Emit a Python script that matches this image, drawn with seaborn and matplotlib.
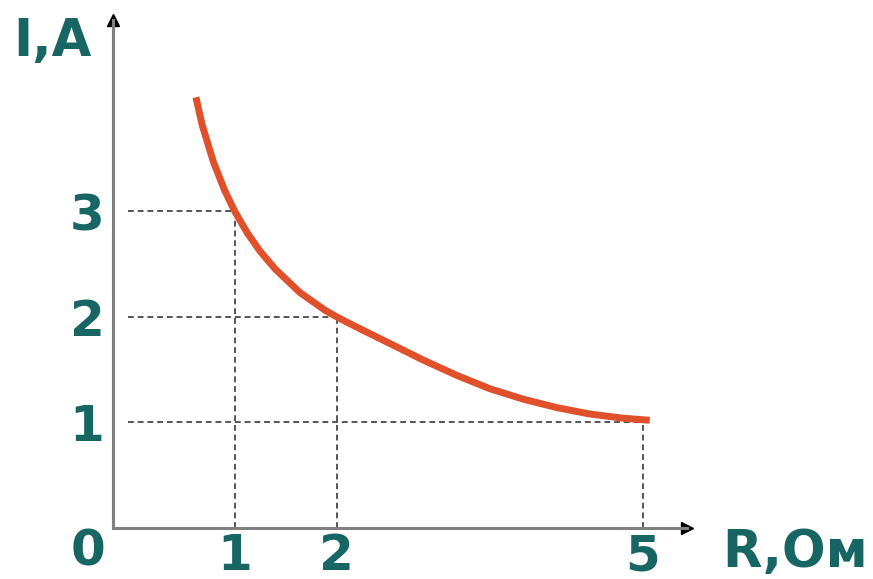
import numpy as np
import pandas as pd
import matplotlib
matplotlib.use("Agg")
import matplotlib.pyplot as plt
import seaborn as sns

# --- datos ---
R_curve = [0.62, 0.68, 0.79, 0.90, 1.00, 1.12, 1.25, 1.40, 1.64, 1.89, 2.00,
           2.13, 2.38, 2.59, 2.85, 3.18, 3.50, 3.83, 4.16, 4.48, 4.81, 5.07]
I_curve = [4.08, 3.82, 3.47, 3.20, 3.00, 2.80, 2.62, 2.45, 2.23, 2.06, 2.00,
           1.935, 1.815, 1.715, 1.59, 1.445, 1.32, 1.22, 1.14, 1.08, 1.04, 1.02]

guide_R = [1, 2, 5]
guide_I = [3, 2, 1]

x_ticks = [1, 2, 5]
x_labels = ["1", "2", "5"]
y_ticks = [1, 2, 3]
y_labels = ["1", "2", "3"]

df = pd.DataFrame({"R": R_curve, "I": I_curve})

sns.set_theme(style="white")
plt.rcParams["font.family"] = ["DejaVu Sans"]

teal = "#186664"
red = "#e0502a"
grey = "#808080"

fig = plt.figure(figsize=(8.73, 5.79), dpi=100)
ax = fig.add_axes([0.1294, 0.0881, 0.6575, 0.877])

sns.lineplot(data=df, x="R", y="I", sort=False, color=red, linewidth=5,
             solid_capstyle="butt", solid_joinstyle="round", ax=ax, zorder=3)

# líneas guía punteadas
for r, i in zip(guide_R, guide_I):
    ax.plot([-0.05, r], [i, i], color="#555555", linewidth=1.4,
            dashes=(3, 2), zorder=2)
    ax.plot([r, r], [0, i], color="#555555", linewidth=1.4,
            dashes=(3, 2), zorder=2)

ax.set_xlim(-0.194, 5.435)
ax.set_ylim(0, 4.81)

for s in ["top", "right"]:
    ax.spines[s].set_visible(False)
for s in ["left", "bottom"]:
    ax.spines[s].set_color(grey)
    ax.spines[s].set_linewidth(2.2)

# flechas de los ejes
ax.plot(1, 0, ">", color="black", markersize=8, transform=ax.transAxes, clip_on=False)
ax.plot(0, 1, "^", color="black", markersize=8, transform=ax.transAxes, clip_on=False)

ax.set_xticks(x_ticks)
ax.set_xticklabels(x_labels)
ax.set_yticks(y_ticks)
ax.set_yticklabels(y_labels)
ax.tick_params(axis="both", length=0, labelsize=36, labelcolor=teal)
ax.tick_params(axis="x", pad=3)
ax.tick_params(axis="y", pad=6)
for lab in ax.get_xticklabels() + ax.get_yticklabels():
    lab.set_fontweight("bold")

ax.set_xlabel("")
ax.set_ylabel("")

fig.text(88 / 873, 1 - 551 / 579, "0", fontsize=36, fontweight="bold",
         color=teal, ha="center", va="center")
fig.text(52 / 873, 1 - 42 / 579, "I,A", fontsize=37, fontweight="bold",
         color=teal, ha="center", va="center")
fig.text(795 / 873, 1 - 553 / 579, "R,Ом", fontsize=37, fontweight="bold",
         color=teal, ha="center", va="center")

plt.savefig("out.png", dpi=100)
